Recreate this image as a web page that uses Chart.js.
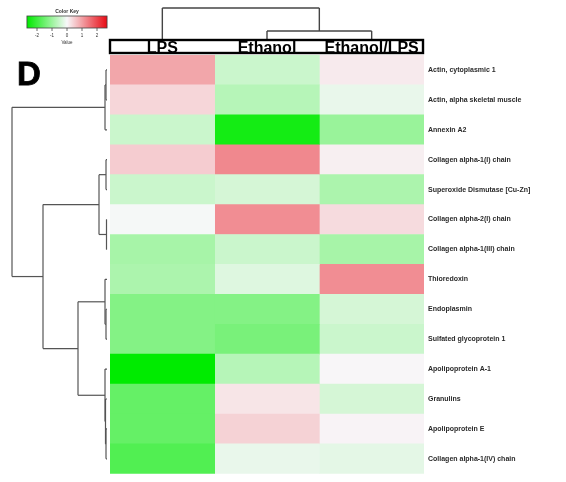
<!DOCTYPE html>
<html>
<head>
<meta charset="utf-8">
<script src="https://cdn.jsdelivr.net/npm/chart.js@4.4.1/dist/chart.umd.min.js"></script>
<style>
  html, body { margin: 0; padding: 0; background: #fff; }
  #wrap { width: 566px; height: 482px; position: relative; }
</style>
</head>
<body>
<div id="wrap"><canvas id="c" width="566" height="482"></canvas></div>
<script>
// Proteins (rows, in dendrogram order) and sample groups (columns)
const proteins = [
  'Actin, cytoplasmic 1',
  'Actin, alpha skeletal muscle',
  'Annexin A2',
  'Collagen alpha-1(I) chain',
  'Superoxide Dismutase [Cu-Zn]',
  'Collagen alpha-2(I) chain',
  'Collagen alpha-1(III) chain',
  'Thioredoxin',
  'Endoplasmin',
  'Sulfated glycoprotein 1',
  'Apolipoprotein A-1',
  'Granulins',
  'Apolipoprotein E',
  'Collagen alpha-1(IV) chain'
];
const groups = ['LPS', 'Ethanol', 'Ethanol/LPS'];

// Scaled expression values (z-scores) per group
const lpsValues     = [ 0.90,  0.37, -0.48,  0.48, -0.48, -0.03, -0.85, -0.80, -1.22, -1.22, -2.60, -1.54, -1.54, -1.75];
const ethanolValues = [-0.48, -0.69, -2.39,  1.22, -0.37,  1.17, -0.48, -0.27, -1.22, -1.33, -0.69,  0.21,  0.42, -0.16];
const ethLpsValues  = [ 0.15, -0.16, -1.00,  0.10, -0.80,  0.32, -0.85,  1.17, -0.37, -0.48,  0.02, -0.37,  0.05, -0.21];

// Hierarchical clustering merges (hclust style: negative = leaf, positive = earlier merge), with heights
const rowMerges = [
  [-1, -2, 0.1],
  [1, -3, 0.2],
  [-4, -5, 0.1],
  [-6, -7, 0.05],
  [3, 4, 0.8],
  [-9, -10, 0.1],
  [-8, 6, 0.2],
  [-13, -14, 0.1],
  [-12, 8, 0.15],
  [-11, 9, 0.2],
  [7, 10, 2.9],
  [5, 11, 6.4],
  [2, 12, 9.5]
];
const colMerges = [
  [-2, -3, 0.9],
  [-1, 1, 3.2]
];

// Colour key
const keyTicks = [-2, -1, 0, 1, 2];
const keyRange = 2.67;

const WHITE = [248, 248, 250];
const GREEN = [0, 235, 0];
const RED = [232, 10, 20];
function colorFor(v) {
  const t = Math.min(1, Math.abs(v) / 2.6);
  const end = v < 0 ? GREEN : RED;
  const c = WHITE.map((w, i) => Math.round(w + (end[i] - w) * t));
  return `rgb(${c[0]},${c[1]},${c[2]})`;
}

const columns = [lpsValues, ethanolValues, ethLpsValues];
const datasets = columns.map((vals, i) => ({
  label: groups[i],
  data: vals.map(() => 1),
  backgroundColor: vals.map(colorFor),
  borderWidth: 0,
  barPercentage: 1,
  categoryPercentage: 1,
  stack: 'cells'
}));

// Walk hclust merges and draw elbow-style dendrogram
function drawDendrogram(ctx, merges, leafPos, heightPos, horizontal) {
  const nodes = [];
  const pos = (ref) => ref < 0 ? { p: leafPos(-ref - 1), h: 0 } : nodes[ref - 1];
  const line = (p1, h1, p2, h2) => {
    ctx.beginPath();
    if (horizontal) { ctx.moveTo(heightPos(h1), p1); ctx.lineTo(heightPos(h2), p2); }
    else { ctx.moveTo(p1, heightPos(h1)); ctx.lineTo(p2, heightPos(h2)); }
    ctx.stroke();
  };
  merges.forEach(([a, b, h]) => {
    const A = pos(a), B = pos(b);
    line(A.p, A.h, A.p, h);
    line(B.p, B.h, B.p, h);
    line(A.p, h, B.p, h);
    nodes.push({ p: (A.p + B.p) / 2, h });
  });
}

const decorations = {
  id: 'decorations',
  afterDraw(chart) {
    const ctx = chart.ctx;
    const area = chart.chartArea;
    const xs = chart.scales.x, ys = chart.scales.y;
    ctx.save();

    // row dendrogram
    ctx.strokeStyle = '#555';
    ctx.lineWidth = 1.2;
    const rowLeaf = area.left - 3;
    drawDendrogram(ctx, rowMerges, i => ys.getPixelForValue(i), h => rowLeaf - h * 10, true);

    // column dendrogram
    ctx.strokeStyle = '#444';
    ctx.lineWidth = 1.4;
    const colLeaf = area.top - 15;
    drawDendrogram(ctx, colMerges, i => xs.getPixelForValue(i + 0.5), h => colLeaf - h * 10, false);

    // column header box
    ctx.strokeStyle = '#000';
    ctx.lineWidth = 2.4;
    ctx.strokeRect(area.left, area.top - 15, area.right - area.left - 1, 13);
    ctx.fillStyle = '#000';
    ctx.font = 'bold 16px "Liberation Sans", Arial, sans-serif';
    ctx.textAlign = 'center';
    ctx.textBaseline = 'alphabetic';
    groups.forEach((g, i) => {
      ctx.fillText(g, xs.getPixelForValue(i + 0.5), area.top - 2);
    });

    // panel letter
    ctx.font = 'bold 33px "Liberation Sans", Arial, sans-serif';
    ctx.textAlign = 'left';
    ctx.lineWidth = 0.8;
    ctx.strokeStyle = '#000';
    ctx.fillText('D', 17, 85);
    ctx.strokeText('D', 17, 85);

    // colour key
    const kx = v => 67 + v * 15;
    const kTop = 16, kH = 12;
    const grad = ctx.createLinearGradient(kx(-keyRange), 0, kx(keyRange), 0);
    for (let s = 0; s <= 20; s++) {
      const v = -keyRange + (2 * keyRange) * s / 20;
      grad.addColorStop(s / 20, colorFor(v * 2.6 / keyRange));
    }
    ctx.fillStyle = grad;
    ctx.fillRect(kx(-keyRange), kTop, kx(keyRange) - kx(-keyRange), kH);
    ctx.strokeStyle = '#444';
    ctx.lineWidth = 0.8;
    ctx.strokeRect(kx(-keyRange), kTop, kx(keyRange) - kx(-keyRange), kH);
    ctx.fillStyle = '#333';
    ctx.font = 'bold 5px "Liberation Sans", Arial, sans-serif';
    ctx.textAlign = 'center';
    ctx.fillText('Color Key', kx(0), 13);
    ctx.font = '4.5px "Liberation Sans", Arial, sans-serif';
    keyTicks.forEach(t => {
      ctx.beginPath();
      ctx.moveTo(kx(t), kTop + kH);
      ctx.lineTo(kx(t), kTop + kH + 3);
      ctx.stroke();
      ctx.fillText(String(t), kx(t), 37);
    });
    ctx.fillText('Value', kx(0), 44);
    ctx.restore();
  }
};

new Chart(document.getElementById('c'), {
  type: 'bar',
  data: { labels: proteins, datasets },
  options: {
    indexAxis: 'y',
    responsive: false,
    animation: false,
    layout: { padding: { left: 110, top: 55, right: 4, bottom: 4 } },
    plugins: { legend: { display: false }, tooltip: { enabled: false } },
    scales: {
      x: { stacked: true, min: 0, max: groups.length, display: false },
      y: {
        stacked: true,
        position: 'right',
        grid: { display: false, drawTicks: false },
        border: { display: false },
        ticks: {
          autoSkip: false,
          padding: 4,
          color: '#2a2a2a',
          font: { family: '"Liberation Sans", Arial, sans-serif', size: 7, weight: 'bold' }
        },
        afterFit(scale) { scale.width = 138; }
      }
    }
  },
  plugins: [decorations]
});
</script>
</body>
</html>
